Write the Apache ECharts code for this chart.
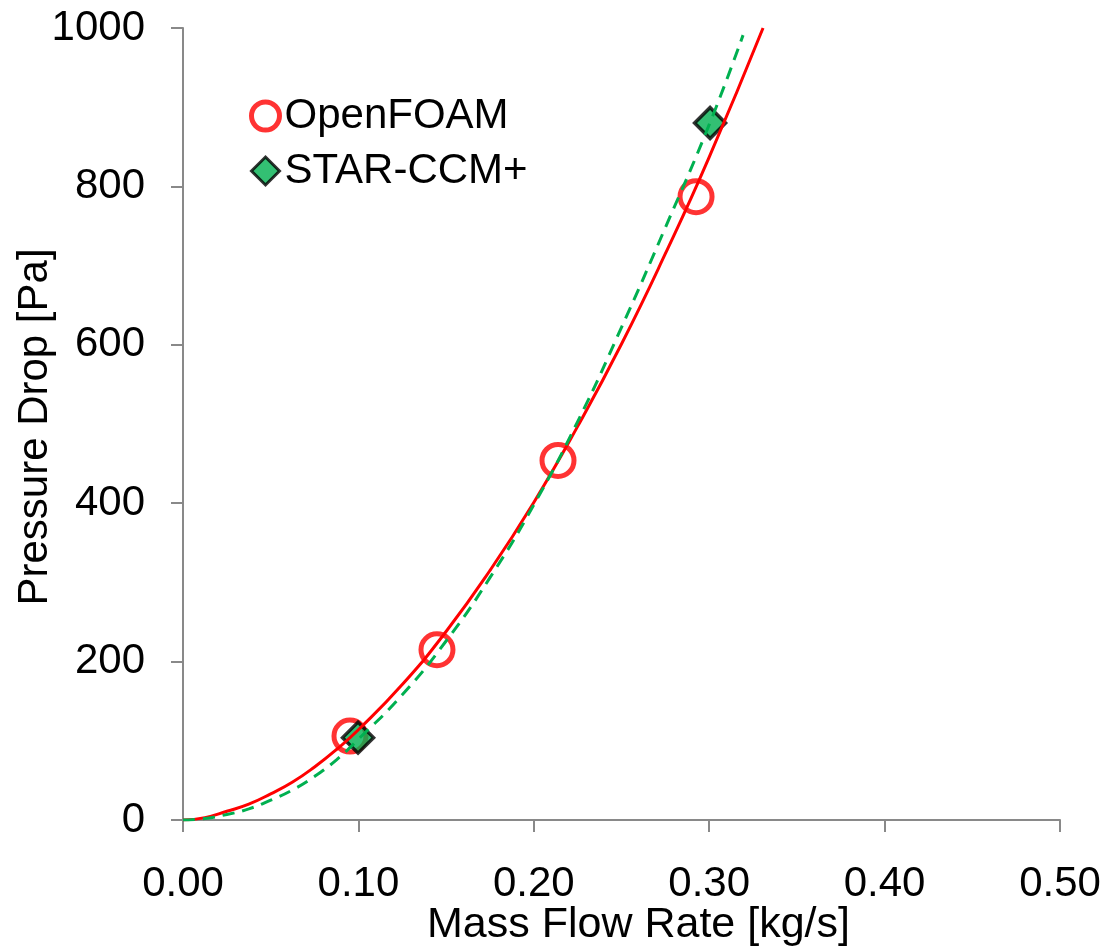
<!DOCTYPE html>
<html>
<head>
<meta charset="utf-8">
<script src="https://cdn.jsdelivr.net/npm/echarts@6/dist/echarts.min.js"></script>
<style>
  html, body { margin: 0; padding: 0; background: #fff; }
  #main { width: 1107px; height: 948px; }
</style>
</head>
<body>
<div id="main"></div>
<script>
// simulation points [mass flow, pressure drop]
var openfoamPts = [[0.0952, 106], [0.1448, 215], [0.2138, 454], [0.2925, 787]];
var starPts = [[0.0998, 104], [0.3005, 880]];

// trend lines
var openfoamTrend = [[0, 0], [0.0125, 3], [0.025, 11], [0.0375, 20], [0.05, 33], [0.0625, 48],
  [0.075, 67], [0.0875, 89], [0.1, 114], [0.125, 171], [0.15, 238], [0.175, 315],
  [0.2, 401], [0.225, 497], [0.25, 601], [0.275, 715], [0.3, 837], [0.3307, 1000]];
var starTrend = [[0, 0], [0.0125, 2], [0.025, 7], [0.0375, 14], [0.05, 25], [0.0625, 38],
  [0.075, 55], [0.0875, 76], [0.1, 102], [0.125, 158], [0.15, 226], [0.175, 306],
  [0.2, 398], [0.225, 503], [0.25, 622], [0.275, 748], [0.3, 878], [0.3193, 991]];

var chart = echarts.init(document.getElementById('main'));
var font = 'Liberation Sans, Arial, sans-serif';

var option = {
  animation: false,
  grid: { left: 183, right: 47, top: 28, bottom: 128, outerBoundsMode: 'none' },
  legend: {
    orient: 'vertical',
    left: 244,
    top: 90,
    itemGap: 13,
    itemWidth: 28,
    itemHeight: 28,
    textStyle: { fontSize: 42, fontFamily: font, color: '#000' },
    data: [
      { name: 'OpenFOAM', icon: 'circle',
        itemStyle: { color: '#fff', borderColor: '#ff0000', borderWidth: 5 } },
      { name: 'STAR-CCM+', icon: 'diamond',
        itemStyle: { color: '#00b050', borderColor: '#000', borderWidth: 3 } }
    ]
  },
  xAxis: {
    type: 'value',
    min: 0, max: 0.5, interval: 0.1,
    name: 'Mass Flow Rate [kg/s]',
    nameLocation: 'middle',
    nameGap: 84,
    nameMoveOverlap: false,
    nameTextStyle: { fontSize: 43, fontFamily: font, color: '#000', padding: [0, 0, 0, 34] },
    axisLine: { lineStyle: { color: '#898989', width: 2 } },
    axisTick: { show: true, length: 12, lineStyle: { color: '#898989', width: 2 } },
    axisLabel: { fontSize: 42, fontFamily: font, color: '#000', margin: 43,
      formatter: function (v) { return v.toFixed(2); } },
    splitLine: { show: false }
  },
  yAxis: {
    type: 'value',
    min: 0, max: 1000, interval: 200,
    name: 'Pressure Drop [Pa]',
    nameLocation: 'middle',
    nameGap: 127,
    nameMoveOverlap: false,
    nameTextStyle: { fontSize: 42, fontFamily: font, color: '#000', padding: [0, 6, 0, 0] },
    axisLine: { show: true, lineStyle: { color: '#898989', width: 2 } },
    axisTick: { show: true, length: 12, lineStyle: { color: '#898989', width: 2 } },
    axisLabel: { fontSize: 42, fontFamily: font, color: '#000', margin: 38,
      formatter: function (v) { return String(v); } },
    splitLine: { show: false }
  },
  series: [
    {
      name: 'OpenFOAM',
      type: 'scatter',
      data: openfoamPts,
      symbol: 'circle',
      symbolSize: 32,
      z: 1,
      itemStyle: { color: 'rgba(255,255,255,0)', borderColor: '#ff0000', borderWidth: 5 }
    },
    {
      name: 'STAR-CCM+',
      type: 'scatter',
      data: starPts,
      symbol: 'diamond',
      symbolSize: [31, 31],
      z: 2,
      itemStyle: { color: '#00b050', borderColor: '#000', borderWidth: 3.5 }
    },
    {
      name: 'OpenFOAM fit',
      type: 'line',
      data: openfoamTrend,
      smooth: true,
      showSymbol: false,
      z: 3,
      lineStyle: { color: '#ff0000', width: 3 }
    },
    {
      name: 'STAR-CCM+ fit',
      type: 'line',
      data: starTrend,
      smooth: true,
      showSymbol: false,
      z: 4,
      lineStyle: { color: '#00b050', width: 3, type: [12, 8] }
    }
  ]
};
chart.setOption(option);
</script>
</body>
</html>
